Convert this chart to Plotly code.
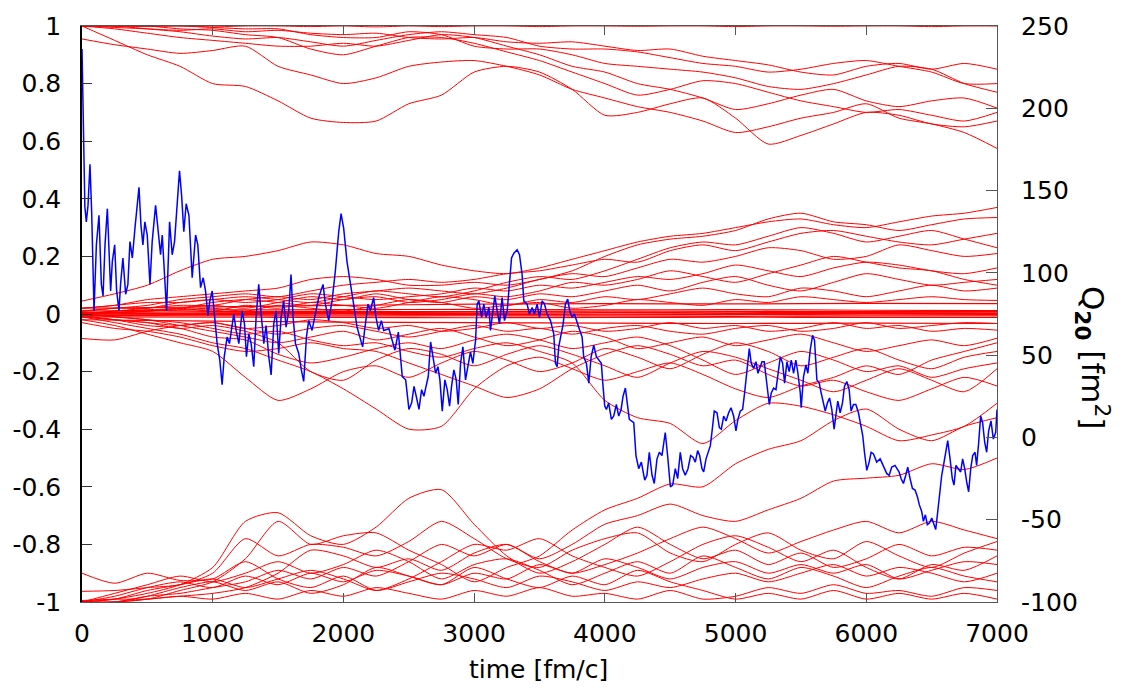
import plotly.graph_objects as go

# sample times (fm/c) for the red trajectories
T = [0, 250, 500, 750, 1000, 1250, 1500, 1750, 2000, 2250, 2500, 2750, 3000, 3250,
     3500, 3750, 4000, 4250, 4500, 4750, 5000, 5250, 5500, 5750, 6000, 6250, 6500,
     6750, 7000]
T_FLAT = [0, 1000, 2000, 3000, 4000, 5000, 6000, 7000]

# trajectories starting near +1
top_1 = [1.00, 0.95, 0.90, 0.86, 0.80, 0.79, 0.74, 0.68, 0.665, 0.67, 0.73, 0.76, 0.84, 0.86, 0.84,
         0.78, 0.69, 0.70, 0.73, 0.75, 0.68, 0.59, 0.62, 0.66, 0.70, 0.69, 0.66, 0.65, 0.67]
top_2 = [0.955, 0.935, 0.92, 0.905, 0.915, 0.93, 0.86, 0.83, 0.80, 0.82, 0.86, 0.875, 0.88, 0.86, 0.83,
         0.78, 0.75, 0.72, 0.70, 0.67, 0.63, 0.65, 0.68, 0.70, 0.73, 0.68, 0.66, 0.63, 0.575]
top_3 = [1.00, 0.99, 0.975, 0.96, 0.95, 0.94, 0.93, 0.93, 0.94, 0.93, 0.95, 0.97, 0.96, 0.93, 0.90,
         0.86, 0.84, 0.80, 0.78, 0.75, 0.71, 0.73, 0.76, 0.78, 0.74, 0.72, 0.74, 0.75, 0.715]
top_4 = [1.00, 1.00, 0.99, 0.98, 0.965, 0.955, 0.96, 0.945, 0.93, 0.95, 0.97, 0.98, 0.97, 0.96, 0.93,
         0.92, 0.92, 0.91, 0.89, 0.87, 0.86, 0.84, 0.85, 0.87, 0.88, 0.86, 0.84, 0.80, 0.80]
top_5 = [1.00, 1.00, 1.00, 0.99, 0.985, 0.97, 0.96, 0.92, 0.90, 0.93, 0.96, 0.96, 0.94, 0.91, 0.88,
         0.84, 0.80, 0.76, 0.78, 0.81, 0.80, 0.77, 0.74, 0.72, 0.70, 0.71, 0.69, 0.67, 0.70]
top_6 = [1.00, 1.00, 1.00, 1.00, 0.995, 0.99, 0.99, 0.97, 0.96, 0.96, 0.98, 0.97, 0.93, 0.92, 0.92,
         0.90, 0.87, 0.86, 0.85, 0.84, 0.82, 0.79, 0.78, 0.80, 0.83, 0.86, 0.85, 0.80, 0.77]
top_7 = [1.00, 1.00, 0.998, 1.00, 0.997, 1.00, 1.00, 0.998, 1.00, 0.997, 1.00, 0.998, 1.00, 1.00, 0.998,
         1.00, 1.00, 0.999, 1.00, 1.00, 0.998, 1.00, 1.00, 0.999, 1.00, 1.00, 0.998, 1.00, 1.00]
top_8 = [1.00, 0.995, 0.99, 0.985, 0.99, 0.98, 0.985, 0.975, 0.97, 0.975, 0.96, 0.955, 0.96, 0.945, 0.94,
         0.945, 0.93, 0.915, 0.92, 0.895, 0.88, 0.865, 0.84, 0.83, 0.86, 0.87, 0.85, 0.87, 0.85]

# trajectories starting near -1
bot_1 = [-0.90, -0.935, -0.90, -0.925, -0.92, -0.86, -0.92, -0.95, -0.91, -0.96, -0.93, -0.90, -0.92, -0.95, -0.91,
         -0.93, -0.96, -0.93, -0.95, -0.92, -0.90, -0.93, -0.90, -0.87, -0.91, -0.88, -0.90, -0.93, -0.90]
bot_2 = [-0.963, -0.96, -0.95, -0.94, -0.90, -0.78, -0.84, -0.80, -0.81, -0.84, -0.79, -0.72, -0.78, -0.85, -0.88,
         -0.82, -0.78, -0.76, -0.83, -0.86, -0.80, -0.76, -0.82, -0.85, -0.79, -0.84, -0.88, -0.83, -0.79]
bot_3 = [-1.00, -0.99, -0.97, -0.94, -0.88, -0.72, -0.69, -0.77, -0.80, -0.74, -0.64, -0.61, -0.73, -0.84, -0.90,
         -0.86, -0.80, -0.74, -0.80, -0.85, -0.82, -0.87, -0.83, -0.88, -0.85, -0.80, -0.84, -0.81, -0.82]
bot_4 = [-1.00, -1.00, -0.99, -0.96, -0.93, -0.85, -0.72, -0.80, -0.77, -0.76, -0.82, -0.87, -0.93, -0.88, -0.84,
         -0.75, -0.68, -0.64, -0.59, -0.60, -0.52, -0.47, -0.44, -0.37, -0.33, -0.40, -0.44, -0.39, -0.36]
bot_5 = [-1.00, -1.00, -0.98, -0.97, -0.95, -0.93, -0.89, -0.92, -0.88, -0.91, -0.86, -0.80, -0.84, -0.80, -0.85,
         -0.80, -0.73, -0.70, -0.66, -0.70, -0.72, -0.68, -0.64, -0.58, -0.57, -0.56, -0.52, -0.54, -0.50]
bot_6 = [-1.00, -1.00, -0.99, -0.98, -0.97, -0.95, -0.90, -0.82, -0.84, -0.88, -0.85, -0.89, -0.83, -0.80, -0.86,
         -0.90, -0.87, -0.83, -0.78, -0.74, -0.78, -0.83, -0.79, -0.75, -0.72, -0.76, -0.72, -0.75, -0.78]
bot_7 = [-1.00, -0.98, -0.95, -0.93, -0.95, -0.91, -0.94, -0.90, -0.93, -0.89, -0.91, -0.94, -0.90, -0.92, -0.87,
         -0.90, -0.85, -0.88, -0.92, -0.88, -0.86, -0.90, -0.87, -0.90, -0.87, -0.92, -0.89, -0.86, -0.87]
bot_8 = [-0.995, -0.99, -0.99, -0.98, -0.99, -0.97, -0.99, -0.96, -0.98, -0.95, -0.97, -0.99, -0.96, -0.98, -0.95,
         -0.98, -0.97, -0.99, -0.96, -0.99, -0.98, -0.95, -0.97, -0.94, -0.97, -0.96, -0.98, -0.95, -0.96]
bot_9 = [-1.00, -0.99, -0.96, -0.94, -0.92, -0.95, -0.92, -0.89, -0.92, -0.96, -0.92, -0.86, -0.80, -0.82, -0.78,
         -0.84, -0.88, -0.91, -0.86, -0.80, -0.77, -0.81, -0.86, -0.82, -0.88, -0.92, -0.87, -0.89, -0.84]
bot_10 = [-1.00, -1.00, -0.98, -0.95, -0.93, -0.96, -0.93, -0.97, -0.94, -0.88, -0.91, -0.94, -0.88, -0.92, -0.95,
          -0.91, -0.94, -0.89, -0.93, -0.96, -0.99, -0.97, -0.99, -0.96, -0.99, -0.97, -0.99, -0.97, -0.99]
bot_11 = [-1.00, -0.97, -0.94, -0.91, -0.93, -0.90, -0.86, -0.90, -0.87, -0.82, -0.86, -0.92, -0.87, -0.85, -0.89,
          -0.94, -0.90, -0.86, -0.90, -0.84, -0.88, -0.92, -0.88, -0.91, -0.95, -0.91, -0.88, -0.91, -0.93]

# trajectories starting near 0 that drift upward
mid_up_1 = [0.045, 0.07, 0.10, 0.15, 0.19, 0.20, 0.22, 0.25, 0.24, 0.21, 0.20, 0.17, 0.15, 0.14, 0.16,
            0.19, 0.22, 0.25, 0.27, 0.28, 0.30, 0.32, 0.33, 0.31, 0.30, 0.32, 0.34, 0.35, 0.37]
mid_up_2 = [0.02, 0.03, 0.05, 0.06, 0.07, 0.08, 0.09, 0.12, 0.13, 0.12, 0.10, 0.10, 0.11, 0.10, 0.12,
            0.15, 0.20, 0.24, 0.26, 0.27, 0.29, 0.33, 0.35, 0.32, 0.31, 0.29, 0.31, 0.33, 0.335]
mid_up_3 = [0.01, 0.02, 0.03, 0.05, 0.06, 0.07, 0.06, 0.08, 0.10, 0.11, 0.12, 0.11, 0.12, 0.14, 0.15,
            0.17, 0.19, 0.18, 0.22, 0.24, 0.22, 0.25, 0.28, 0.29, 0.27, 0.25, 0.24, 0.26, 0.28]
mid_up_4 = [0.0, 0.01, 0.02, 0.03, 0.03, 0.05, 0.06, 0.05, 0.07, 0.08, 0.09, 0.08, 0.07, 0.09, 0.12,
            0.14, 0.13, 0.16, 0.19, 0.18, 0.20, 0.23, 0.22, 0.19, 0.20, 0.24, 0.22, 0.20, 0.21]
mid_up_5 = [0.01, 0.02, 0.02, 0.04, 0.05, 0.04, 0.05, 0.07, 0.06, 0.05, 0.06, 0.07, 0.09, 0.08, 0.10,
            0.09, 0.11, 0.13, 0.12, 0.14, 0.17, 0.15, 0.13, 0.16, 0.18, 0.17, 0.15, 0.14, 0.16]
mid_up_6 = [0.0, 0.005, 0.01, 0.02, 0.03, 0.02, 0.04, 0.06, 0.05, 0.07, 0.05, 0.04, 0.06, 0.05, 0.07,
            0.06, 0.08, 0.10, 0.08, 0.11, 0.13, 0.10, 0.08, 0.11, 0.14, 0.12, 0.10, 0.11, 0.12]
mid_up_7 = [0.0, 0.005, 0.01, 0.02, 0.01, 0.03, 0.02, 0.04, 0.03, 0.02, 0.04, 0.06, 0.05, 0.03, 0.05,
            0.04, 0.06, 0.05, 0.07, 0.09, 0.07, 0.06, 0.09, 0.08, 0.06, 0.08, 0.10, 0.08, 0.09]
mid_up_8 = [0.0, 0.005, 0.01, 0.015, 0.02, 0.01, 0.03, 0.02, 0.01, 0.03, 0.05, 0.04, 0.02, 0.03, 0.04,
            0.02, 0.03, 0.05, 0.04, 0.03, 0.05, 0.04, 0.06, 0.05, 0.04, 0.05, 0.06, 0.05, 0.047]
mid_up_9 = [0.02, 0.03, 0.04, 0.04, 0.05, 0.06, 0.05, 0.04, 0.06, 0.08, 0.07, 0.06, 0.08, 0.11, 0.13,
            0.12, 0.15, 0.19, 0.23, 0.25, 0.24, 0.27, 0.30, 0.28, 0.25, 0.27, 0.29, 0.26, 0.23]
mid_up_10 = [0.0, 0.01, 0.015, 0.02, 0.04, 0.05, 0.04, 0.03, 0.05, 0.06, 0.04, 0.05, 0.07, 0.06, 0.08,
             0.11, 0.10, 0.12, 0.15, 0.13, 0.11, 0.14, 0.17, 0.20, 0.18, 0.16, 0.15, 0.12, 0.10]

# trajectories that stay close to 0
flat_1 = [0.010, 0.014, 0.015, 0.016, 0.014, 0.015, 0.013, 0.012]
flat_2 = [0.005, 0.008, 0.009, 0.008, 0.010, 0.009, 0.008, 0.008]
flat_3 = [0.000, 0.004, 0.005, 0.004, 0.005, 0.006, 0.005, 0.004]
flat_4 = [0.000, 0.001, 0.002, 0.001, 0.000, 0.001, 0.002, 0.001]
flat_5 = [0.000, -0.002, -0.003, -0.002, -0.003, -0.002, -0.003, -0.002]
flat_6 = [-0.005, -0.006, -0.007, -0.006, -0.007, -0.008, -0.007, -0.006]
flat_7 = [-0.010, -0.011, -0.012, -0.013, -0.012, -0.011, -0.012, -0.012]
flat_8 = [0.020, 0.025, 0.030, 0.034, 0.036, 0.035, 0.037, 0.036]
flat_9 = [-0.020, -0.025, -0.028, -0.030, -0.032, -0.033, -0.032, -0.033]

# trajectories starting near 0 that drift downward
mid_lo_1 = [-0.085, -0.09, -0.06, -0.04, -0.03, -0.05, -0.04, -0.02, -0.03, -0.05, -0.04, -0.06, -0.05, -0.03, -0.05,
            -0.04, -0.06, -0.05, -0.03, -0.05, -0.04, -0.06, -0.05, -0.03, -0.05, -0.04, -0.06, -0.05, -0.056]
mid_lo_2 = [-0.02, -0.04, -0.07, -0.10, -0.13, -0.22, -0.30, -0.26, -0.20, -0.18, -0.22, -0.17, -0.13, -0.16, -0.20,
            -0.17, -0.12, -0.15, -0.19, -0.14, -0.10, -0.13, -0.18, -0.15, -0.12, -0.16, -0.19, -0.15, -0.13]
mid_lo_3 = [-0.01, -0.03, -0.05, -0.07, -0.10, -0.12, -0.16, -0.20, -0.26, -0.33, -0.40, -0.39, -0.26, -0.18, -0.15,
            -0.19, -0.23, -0.20, -0.17, -0.21, -0.26, -0.29, -0.25, -0.22, -0.18, -0.21, -0.16, -0.13, -0.10]
mid_lo_4 = [0.0, -0.01, -0.02, -0.03, -0.05, -0.07, -0.06, -0.09, -0.11, -0.10, -0.13, -0.15, -0.12, -0.10, -0.13,
            -0.17, -0.30, -0.36, -0.38, -0.45, -0.37, -0.31, -0.32, -0.35, -0.39, -0.44, -0.42, -0.39, -0.31]
mid_lo_5 = [-0.03, -0.05, -0.06, -0.08, -0.11, -0.13, -0.12, -0.10, -0.12, -0.13, -0.17, -0.21, -0.25, -0.29, -0.26,
            -0.19, -0.14, -0.11, -0.14, -0.18, -0.16, -0.21, -0.25, -0.23, -0.27, -0.30, -0.26, -0.22, -0.25]
mid_lo_6 = [-0.005, -0.02, -0.04, -0.05, -0.08, -0.09, -0.14, -0.17, -0.15, -0.12, -0.10, -0.12, -0.09, -0.07, -0.09,
            -0.12, -0.10, -0.08, -0.11, -0.16, -0.21, -0.17, -0.13, -0.16, -0.20, -0.18, -0.22, -0.19, -0.17]
mid_lo_7 = [0.0, -0.01, -0.02, -0.04, -0.06, -0.08, -0.10, -0.08, -0.06, -0.09, -0.07, -0.05, -0.08, -0.11, -0.09,
            -0.06, -0.08, -0.12, -0.10, -0.08, -0.11, -0.09, -0.07, -0.10, -0.13, -0.11, -0.09, -0.11, -0.084]
mid_lo_8 = [-0.01, -0.02, -0.03, -0.04, -0.03, -0.05, -0.07, -0.05, -0.04, -0.06, -0.08, -0.06, -0.04, -0.06, -0.05,
            -0.07, -0.05, -0.04, -0.06, -0.07, -0.05, -0.04, -0.06, -0.05, -0.03, -0.05, -0.04, -0.03, -0.033]
mid_lo_9 = [-0.01, -0.02, -0.03, -0.05, -0.04, -0.06, -0.10, -0.20, -0.23, -0.16, -0.12, -0.14, -0.18, -0.14, -0.11,
            -0.14, -0.18, -0.22, -0.17, -0.13, -0.15, -0.19, -0.23, -0.27, -0.23, -0.19, -0.23, -0.27, -0.19]

# quadrupole moment Q20 (fm^2) versus time (fm/c)
blue_t = [0, 6, 14, 22, 33, 46, 61, 74, 92, 110, 130, 148, 161, 176, 194, 206, 219, 232, 250, 265,
          283, 295, 313, 334, 351, 367, 385, 405, 436, 451, 466, 481, 499, 520, 537, 563, 583, 601, 614, 647,
          670, 690, 708, 728, 746, 762, 779, 797, 818, 843, 869, 886, 907, 927, 945, 963, 978, 996, 1016, 1034,
          1054, 1072, 1088, 1110, 1128, 1161, 1179, 1200, 1225, 1243, 1258, 1276, 1294, 1314, 1332, 1352, 1373, 1391, 1408, 1429,
          1447, 1467, 1485, 1505, 1523, 1543, 1561, 1582, 1599, 1615, 1633, 1658, 1678, 1696, 1717, 1734, 1760, 1785, 1811, 1844,
          1862, 1887, 1913, 1938, 1964, 1982, 2002, 2027, 2053, 2078, 2104, 2129, 2147, 2162, 2188, 2206, 2231, 2249, 2269, 2290,
          2308, 2348, 2374, 2394, 2420, 2438, 2450, 2476, 2501, 2522, 2540, 2557, 2578, 2598, 2616, 2629, 2649, 2667, 2685, 2705,
          2723, 2738, 2756, 2776, 2794, 2812, 2827, 2845, 2863, 2878, 2896, 2914, 2934, 2955, 2972, 2990, 3011, 3023, 3036, 3057,
          3074, 3092, 3113, 3125, 3143, 3158, 3176, 3194, 3214, 3232, 3253, 3265, 3286, 3304, 3329, 3347, 3367, 3380, 3405, 3423,
          3444, 3461, 3482, 3500, 3520, 3538, 3558, 3584, 3609, 3622, 3635, 3647, 3660, 3681, 3698, 3716, 3731, 3749, 3767, 3782,
          3800, 3826, 3838, 3859, 3877, 3895, 3915, 3935, 3953, 3973, 3984, 3999, 4012, 4029, 4050, 4068, 4088, 4106, 4124, 4139,
          4157, 4172, 4187, 4203, 4221, 4238, 4259, 4279, 4305, 4322, 4340, 4361, 4378, 4399, 4417, 4437, 4462, 4480, 4501, 4519,
          4539, 4557, 4577, 4595, 4615, 4636, 4656, 4674, 4692, 4710, 4725, 4743, 4756, 4774, 4789, 4807, 4822, 4837, 4858, 4876,
          4891, 4909, 4927, 4947, 4965, 4985, 5003, 5018, 5036, 5054, 5069, 5087, 5105, 5120, 5138, 5156, 5171, 5189, 5202, 5219,
          5235, 5247, 5258, 5273, 5291, 5309, 5324, 5342, 5360, 5375, 5393, 5410, 5426, 5444, 5461, 5477, 5495, 5502, 5520, 5538,
          5553, 5571, 5589, 5604, 5622, 5640, 5655, 5673, 5686, 5703, 5719, 5736, 5754, 5770, 5782, 5800, 5818, 5833, 5851, 5869,
          5884, 5902, 5920, 5940, 5958, 5973, 5986, 6004, 6022, 6037, 6055, 6080, 6106, 6131, 6157, 6175, 6195, 6220, 6233, 6251,
          6266, 6284, 6302, 6317, 6335, 6353, 6373, 6391, 6406, 6424, 6437, 6452, 6467, 6483, 6501, 6516, 6531, 6544, 6559, 6577,
          6595, 6610, 6623, 6641, 6658, 6671, 6686, 6704, 6722, 6737, 6753, 6768, 6783, 6799, 6814, 6832, 6844, 6860, 6875, 6890,
          6906, 6921, 6936, 6954, 6972, 6990, 7000]
blue_q = [236, 212, 165, 140, 131, 141, 166, 137, 77, 117, 135, 93, 86, 117, 139, 113, 89, 107, 117, 89,
          77, 93, 109, 87, 93, 119, 109, 127, 152, 129, 117, 131, 123, 93, 119, 141, 123, 111, 123, 77,
          131, 111, 119, 141, 162, 147, 125, 142, 135, 97, 123, 117, 91, 97, 89, 74, 83, 89, 73, 57,
          47, 32, 49, 61, 57, 75, 65, 57, 77, 69, 49, 63, 57, 43, 73, 93, 73, 57, 68, 49,
          38, 69, 77, 51, 73, 83, 67, 77, 99, 73, 57, 51, 41, 34, 61, 71, 65, 75, 85, 93,
          81, 71, 83, 101, 125, 136, 127, 107, 95, 81, 67, 59, 55, 65, 81, 77, 85, 73, 65, 71,
          65, 66, 59, 53, 64, 49, 37, 35, 17, 21, 31, 25, 17, 29, 25, 30, 37, 58, 49, 39,
          43, 35, 16, 35, 29, 19, 31, 41, 35, 20, 45, 55, 35, 45, 52, 45, 59, 81, 83, 73,
          81, 73, 79, 65, 77, 86, 77, 69, 85, 71, 77, 89, 109, 112, 114, 111, 99, 83, 81, 75,
          79, 75, 81, 73, 83, 81, 75, 71, 63, 45, 43, 55, 61, 69, 81, 84, 77, 73, 75, 71,
          67, 61, 49, 45, 33, 49, 56, 49, 47, 45, 33, 19, 17, 21, 11, 13, 20, 13, 17, 25,
          30, 21, 11, 10, 9, -11, -19, -15, -26, -23, -9, -23, -28, -13, -9, -11, 3, -11, -30, -29,
          -19, -25, -9, -19, -23, -19, -11, -12, -15, -8, -11, -19, -21, -13, -9, -5, 5, 16, 15, 6,
          5, 13, 10, 15, 18, 13, 4, 11, 16, 17, 27, 41, 54, 45, 42, 46, 39, 43, 46, 46,
          35, 25, 20, 27, 30, 29, 39, 49, 45, 33, 46, 40, 47, 39, 47, 39, 27, 18, 37, 44,
          39, 53, 62, 59, 35, 33, 27, 21, 16, 21, 24, 17, 5, 15, 22, 15, 21, 31, 34, 29,
          16, 20, 20, 15, 7, 1, -9, -20, -15, -9, -10, -15, -13, -17, -22, -23, -18, -17, -19, -21,
          -25, -28, -23, -18, -25, -31, -32, -36, -41, -45, -51, -47, -53, -52, -49, -52, -56, -47, -35, -23,
          -15, -7, -2, -13, -25, -29, -17, -19, -21, -13, -19, -27, -33, -19, -11, -9, -17, -3, 13, 9,
          -3, -9, 4, 10, -1, 3, 17]

# left-axis and right-axis tick labels
x_ticks = [0, 1000, 2000, 3000, 4000, 5000, 6000, 7000]
y_ticks = [-1, -0.8, -0.6, -0.4, -0.2, 0, 0.2, 0.4, 0.6, 0.8, 1]
y_tick_text = ["-1", "-0.8", "-0.6", "-0.4", "-0.2", "0", "0.2", "0.4", "0.6", "0.8", "1"]
q_ticks = [-100, -50, 0, 50, 100, 150, 200, 250]
q_tick_text = ["-100", "-50", "0", "50", "100", "150", "200", "250"]

red_on_T = [top_1, top_2, top_3, top_4, top_5, top_6, top_7, top_8,
            bot_1, bot_2, bot_3, bot_4, bot_5, bot_6, bot_7, bot_8, bot_9, bot_10, bot_11,
            mid_up_1, mid_up_2, mid_up_3, mid_up_4, mid_up_5, mid_up_6, mid_up_7, mid_up_8, mid_up_9, mid_up_10,
            mid_lo_1, mid_lo_2, mid_lo_3, mid_lo_4, mid_lo_5, mid_lo_6, mid_lo_7, mid_lo_8, mid_lo_9]
red_on_flat = [flat_1, flat_2, flat_3, flat_4, flat_5, flat_6, flat_7, flat_8, flat_9]

RED = "#ff0000"
BLUE = "#0000ff"
FONT = "DejaVu Sans, Liberation Sans, Arial, sans-serif"

fig = go.Figure()
for ys in red_on_T:
    fig.add_trace(go.Scatter(x=T, y=ys, mode="lines", showlegend=False, hoverinfo="skip",
                             line=dict(color=RED, width=1, shape="spline", smoothing=0.7)))
for ys in red_on_flat:
    fig.add_trace(go.Scatter(x=T_FLAT, y=ys, mode="lines", showlegend=False, hoverinfo="skip",
                             line=dict(color=RED, width=1.2, shape="spline", smoothing=0.7)))
fig.add_trace(go.Scatter(x=blue_t, y=blue_q, yaxis="y2", mode="lines", showlegend=False,
                         line=dict(color=BLUE, width=1.5)))

axis_font = dict(family=FONT, size=25, color="#000000")
fig.update_layout(
    width=1134, height=691,
    margin=dict(l=81, r=137, t=19, b=89),
    paper_bgcolor="white", plot_bgcolor="white",
    font=dict(family=FONT, color="#000000"),
    xaxis=dict(range=[0, 7000], tickvals=x_ticks, ticks="inside", ticklen=9, tickwidth=1,
               tickcolor="#555555", showline=True, linecolor="#555555", linewidth=1.2,
               mirror="ticks", showgrid=False, zeroline=False, tickfont=axis_font,
               ticklabelstandoff=9),
    yaxis=dict(range=[-1, 1], tickvals=y_ticks, ticktext=y_tick_text, ticks="inside",
               ticklen=10, tickwidth=1, tickcolor="#333333", showline=True,
               linecolor="#000000", linewidth=1.5, showgrid=False, zeroline=False,
               tickfont=axis_font, ticklabelstandoff=14),
    yaxis2=dict(range=[-100, 250], tickvals=q_ticks, ticktext=q_tick_text, overlaying="y",
                side="right", ticks="inside", ticklen=11, tickwidth=1, tickcolor="#555555",
                showline=True, linecolor="#555555", linewidth=1.2, showgrid=False,
                zeroline=False, tickfont=axis_font, ticklabelstandoff=18),
    annotations=[
        dict(text="time [fm/c]", xref="paper", yref="paper", x=0.499, y=-0.1166,
             xanchor="center", yanchor="middle", showarrow=False,
             font=dict(family=FONT, size=25, color="#000000")),
        dict(text="Q<sub><b>20</b></sub> [fm<sup>2</sup>]", xref="paper", yref="paper",
             x=1.1037, y=0.424, xanchor="center", yanchor="middle", textangle=90,
             showarrow=False, font=dict(family=FONT, size=31, color="#000000")),
    ],
)

fig.write_html("out.html")
